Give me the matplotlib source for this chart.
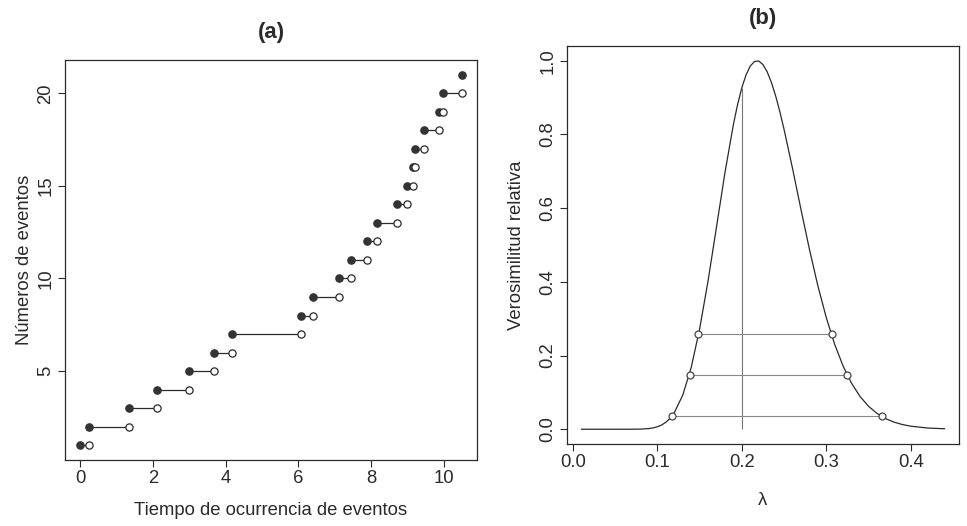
import numpy as np
import matplotlib
matplotlib.use("Agg")
import matplotlib.pyplot as plt

plt.rcParams['font.family'] = ['Liberation Sans', 'DejaVu Sans']
plt.rcParams['font.size'] = 13.3

# ----------- DATA -----------
# (a) event times, event counts 1..21
tiempos = [0.0, 0.24, 1.35, 2.11, 2.99, 3.69, 4.18, 6.08, 6.41, 7.11, 7.44,
           7.89, 8.18, 8.73, 9.00, 9.16, 9.20, 9.46, 9.86, 9.97, 10.50]
eventos = [1, 2, 3, 4, 5, 6, 7, 8, 9, 10, 11,
           12, 13, 14, 15, 16, 17, 18, 19, 20, 21]

# (b) relative likelihood curve
lam = [0.01, 0.03, 0.05, 0.07, 0.08, 0.09, 0.095, 0.10, 0.105, 0.11, 0.115,
       0.12, 0.13, 0.14, 0.15, 0.16, 0.17, 0.18, 0.19, 0.195, 0.20, 0.205,
       0.21, 0.215, 0.22, 0.225, 0.23, 0.235, 0.24, 0.245, 0.25, 0.26, 0.27,
       0.28, 0.29, 0.30, 0.31, 0.32, 0.33, 0.34, 0.35, 0.36, 0.37, 0.38,
       0.39, 0.40, 0.42, 0.44]
rel = [0.0, 0.0, 0.0, 0.0001, 0.0004, 0.0019, 0.0037, 0.0068, 0.0116, 0.0191, 0.0299,
       0.0452, 0.0927, 0.1676, 0.2724, 0.4031, 0.5495, 0.6966, 0.8273, 0.8818, 0.9270, 0.9618,
       0.9856, 0.9980, 0.9992, 0.9895, 0.9698, 0.9411, 0.9047, 0.8617, 0.8137, 0.7078, 0.5967,
       0.4888, 0.3896, 0.3029, 0.2302, 0.1711, 0.1246, 0.0890, 0.0624, 0.0431, 0.0292, 0.0195,
       0.0129, 0.0083, 0.0034, 0.0013]

# likelihood intervals: levels and left/right limits
niveles = [0.036, 0.147, 0.258]
lim_inf = [0.1168, 0.1385, 0.1480]
lim_sup = [0.3660, 0.3248, 0.3065]
lam_vert = 0.20
rel_vert = 0.927

# ----------- FIGURE -----------
fig = plt.figure(figsize=(9.67, 5.26), dpi=100)
ink = '#2a2a2a'

def style(ax):
    for s in ax.spines.values():
        s.set_color(ink)
        s.set_linewidth(0.9)
    ax.tick_params(direction='out', length=5, width=0.8, color=ink,
                   labelcolor=ink, pad=2.5)
    ax.tick_params(axis='y', labelrotation=90)
    for lab in ax.get_yticklabels():
        lab.set_va('center')

# (a)
ax1 = fig.add_axes([0.0672, 0.1255, 0.4261, 0.7605])
ax1.hlines(eventos[:-1], tiempos[:-1], tiempos[1:], color=ink, lw=0.9)
ax1.plot(tiempos, eventos, 'o', ms=5.2, color='#333333', mec='#333333')
ax1.plot(tiempos[1:], eventos[:-1], 'o', ms=5.2, mfc='white', mec=ink, mew=0.9)
ax1.set_xlim(-0.42, 10.92)
ax1.set_ylim(0.2, 21.8)
ax1.set_xticks([0, 2, 4, 6, 8, 10])
ax1.set_yticks([5, 10, 15, 20])
style(ax1)
ax1.set_xlabel("Tiempo de ocurrencia de eventos", color=ink)
ax1.set_ylabel("Números de eventos", color=ink)
ax1.xaxis.set_label_coords(0.5, -0.105)
ax1.yaxis.set_label_coords(-0.078, 0.5)
ax1.set_title("(a)", fontweight='bold', color=ink, y=1.035)

# (b)
ax2 = fig.add_axes([0.5863, 0.1559, 0.4054, 0.7567])
ax2.plot(lam, rel, color=ink, lw=0.9)
ax2.vlines(lam_vert, 0, rel_vert, color='#777777', lw=0.8)
ax2.hlines(niveles, lim_inf, lim_sup, color='#888888', lw=0.8)
ax2.plot(lim_inf + lim_sup, niveles + niveles, 'o', ms=5, mfc='white',
         mec='#444444', mew=0.9)
ax2.set_xlim(-0.0072, 0.4572)
ax2.set_ylim(-0.04, 1.04)
ax2.set_xticks([0.0, 0.1, 0.2, 0.3, 0.4])
ax2.set_yticks([0.0, 0.2, 0.4, 0.6, 0.8, 1.0])
ax2.xaxis.set_major_formatter(matplotlib.ticker.FormatStrFormatter('%.1f'))
ax2.yaxis.set_major_formatter(matplotlib.ticker.FormatStrFormatter('%.1f'))
style(ax2)
ax2.set_xlabel("λ", color=ink)
ax2.set_ylabel("Verosimilitud relativa", color=ink)
ax2.xaxis.set_label_coords(0.5, -0.12)
ax2.yaxis.set_label_coords(-0.107, 0.5)
ax2.set_title("(b)", fontweight='bold', color=ink, y=1.035)

fig.savefig("out.png", dpi=100)
